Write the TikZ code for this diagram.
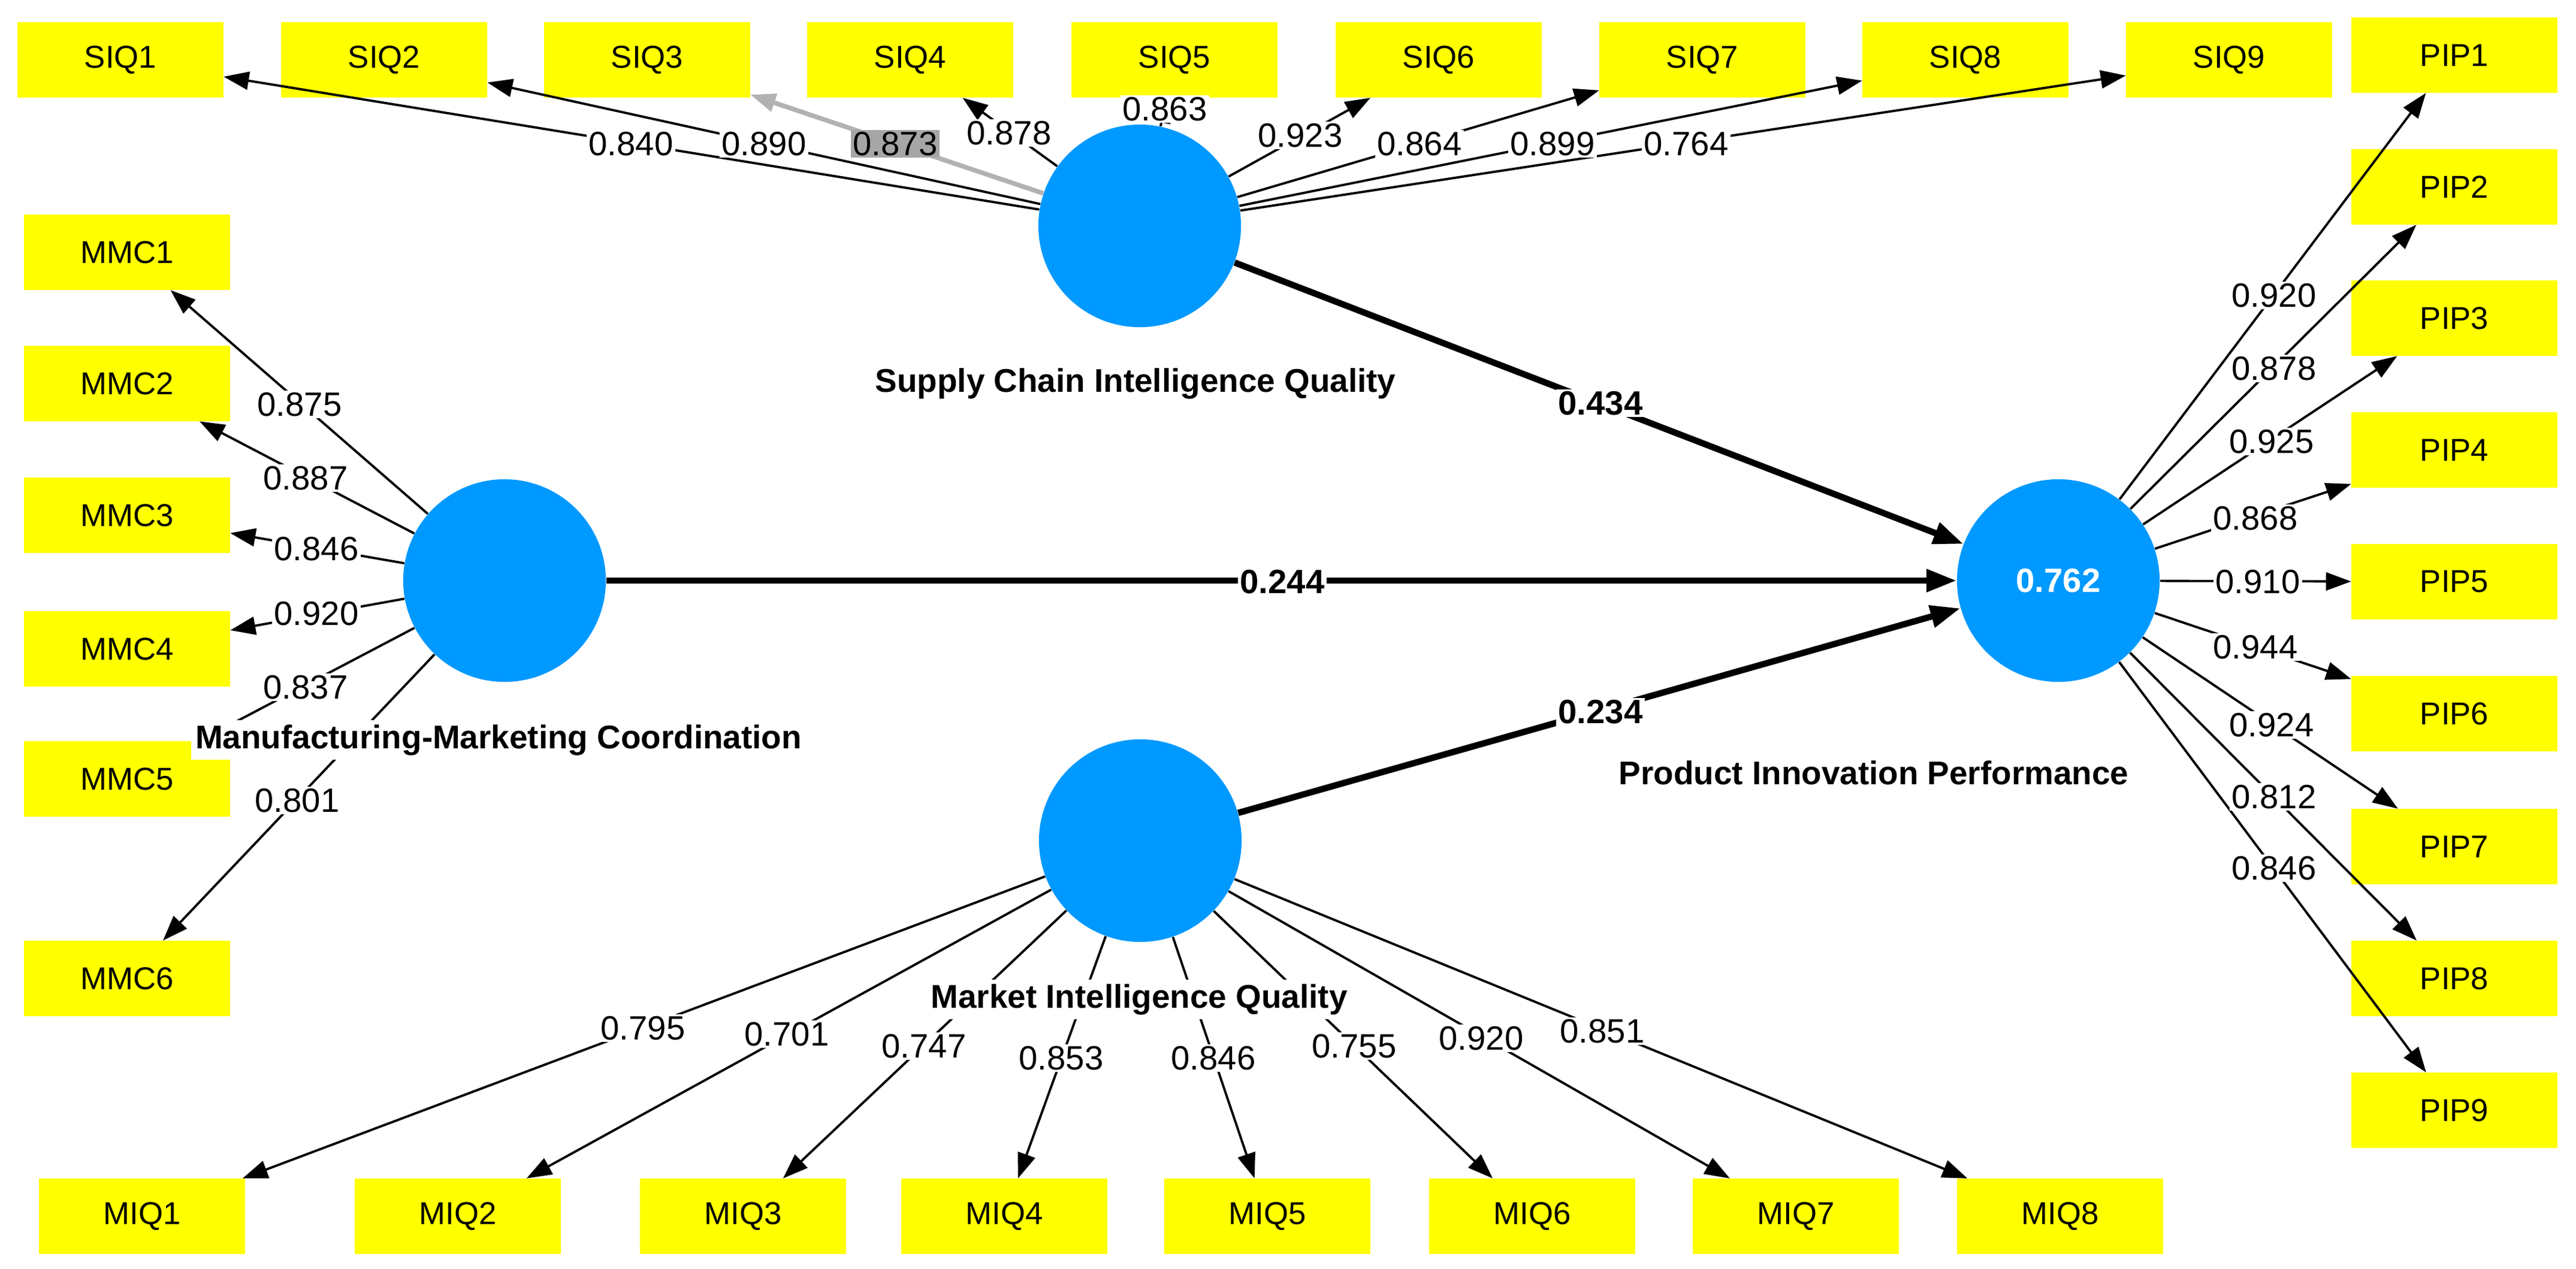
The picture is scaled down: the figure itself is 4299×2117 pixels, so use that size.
\documentclass[tikz,border=0pt]{standalone}
\usepackage{fontspec}
\setmainfont{Liberation Sans}
\usetikzlibrary{arrows.meta}
\definecolor{lv}{RGB}{0,153,255}
\definecolor{ybox}{RGB}{255,255,0}
\begin{document}
\begin{tikzpicture}[x=0.01cm,y=-0.01cm,
  box/.style={rectangle,fill=ybox,minimum width=3.43cm,minimum height=1.25cm,inner sep=0pt,font=\fontsize{15}{18}\selectfont},
  lat/.style={circle,fill=lv,minimum size=3.38cm,inner sep=0pt},
  ind/.style={line width=1.1pt,-{Triangle[length=0.42cm,width=0.3cm]}},
  str/.style={line width=3pt,-{Triangle[length=0.5cm,width=0.36cm]}},
  num/.style={fill=white,inner sep=1pt,font=\fontsize{16}{18}\selectfont},
  bnum/.style={fill=white,inner sep=1pt,font=\fontsize{16}{18}\selectfont\bfseries},
  tit/.style={fill=white,inner sep=2pt,font=\fontsize{15.6}{18}\selectfont\bfseries}]
\useasboundingbox (0,0) rectangle (4299,2117);
% latent variables
\node[lat] (siq) at (1902,377) {};
\node[lat] (mmc) at (842,969) {};
\node[lat] (miq) at (1903,1403) {};
\node[lat] (pip) at (3435,969) {\textcolor{white}{\fontsize{16}{18}\selectfont\bfseries 0.762}};
% indicators
\node[box] (s1) at (201,100) {SIQ1};
\node[box] (s2) at (641,100) {SIQ2};
\node[box] (s3) at (1080,100) {SIQ3};
\node[box] (s4) at (1519,100) {SIQ4};
\node[box] (s5) at (1960,100) {SIQ5};
\node[box] (s6) at (2401,100) {SIQ6};
\node[box] (s7) at (2841,100) {SIQ7};
\node[box] (s8) at (3280,100) {SIQ8};
\node[box] (s9) at (3720,100) {SIQ9};
\node[box] (p1) at (4096,92) {PIP1};
\node[box] (p2) at (4096,312) {PIP2};
\node[box] (p3) at (4096,531) {PIP3};
\node[box] (p4) at (4096,751) {PIP4};
\node[box] (p5) at (4096,971) {PIP5};
\node[box] (p6) at (4096,1191) {PIP6};
\node[box] (p7) at (4096,1413) {PIP7};
\node[box] (p8) at (4096,1633) {PIP8};
\node[box] (p9) at (4096,1853) {PIP9};
\node[box] (m1) at (212,421) {MMC1};
\node[box] (m2) at (212,640) {MMC2};
\node[box] (m3) at (212,860) {MMC3};
\node[box] (m4) at (212,1083) {MMC4};
\node[box] (m5) at (212,1300) {MMC5};
\node[box] (m6) at (212,1633) {MMC6};
\node[box] (q1) at (237,2030) {MIQ1};
\node[box] (q2) at (764,2030) {MIQ2};
\node[box] (q3) at (1240,2030) {MIQ3};
\node[box] (q4) at (1676,2030) {MIQ4};
\node[box] (q5) at (2115,2030) {MIQ5};
\node[box] (q6) at (2557,2030) {MIQ6};
\node[box] (q7) at (2997,2030) {MIQ7};
\node[box] (q8) at (3438,2030) {MIQ8};
% SIQ edges
\foreach \t in {s1,s2,s4,s5,s6,s7,s8,s9} \draw[ind] (siq) -- (\t);
\draw[ind,gray!60,line width=2.2pt] (siq) -- (s3);
% MMC edges
\foreach \t in {m1,m2,m3,m4,m5,m6} \draw[ind] (mmc) -- (\t);
% MIQ edges
\foreach \t in {q1,q2,q3,q4,q5,q6,q7,q8} \draw[ind] (miq) -- (\t);
% PIP edges
\foreach \t in {p1,p2,p3,p4,p5,p6,p7,p8,p9} \draw[ind] (pip) -- (\t);
% structural
\draw[str] (siq) -- (pip);
\draw[str] (mmc) -- (pip);
\draw[str] (miq) -- (pip);
% loadings
\node[num] (l1) at (1053,240) {0.840};
\node[num] (l2) at (1275,240) {0.890};
\node[num,fill=gray!70] (l3) at (1494,240) {0.873};
\node[num] (l4) at (1684,222) {0.878};
\node[num] (l5) at (1944,182) {0.863};
\node[num] (l6) at (2170,226) {0.923};
\node[num] (l7) at (2369,240) {0.864};
\node[num] (l8) at (2591,240) {0.899};
\node[num] (l9) at (2814,240) {0.764};
\node[num] (lm1) at (500,675) {0.875};
\node[num] (lm2) at (510,798) {0.887};
\node[num] (lm3) at (528,916) {0.846};
\node[num] (lm4) at (528,1024) {0.920};
\node[num] (lm5) at (510,1147) {0.837};
\node[num] (lm6) at (496,1336) {0.801};
\node[num] (lq1) at (1073,1716) {0.795};
\node[num] (lq2) at (1313,1726) {0.701};
\node[num] (lq3) at (1542,1746) {0.747};
\node[num] (lq4) at (1771,1766) {0.853};
\node[num] (lq5) at (2025,1766) {0.846};
\node[num] (lq6) at (2260,1746) {0.755};
\node[num] (lq7) at (2472,1733) {0.920};
\node[num] (lq8) at (2674,1721) {0.851};
\node[num] (lp1) at (3795,493) {0.920};
\node[num] (lp2) at (3795,615) {0.878};
\node[num] (lp3) at (3791,737) {0.925};
\node[num] (lp4) at (3764,865) {0.868};
\node[num] (lp5) at (3768,971) {0.910};
\node[num] (lp6) at (3764,1080) {0.944};
\node[num] (lp7) at (3791,1210) {0.924};
\node[num] (lp8) at (3795,1330) {0.812};
\node[num] (lp9) at (3795,1449) {0.846};
% path coefficients
\node[bnum] (c1) at (2671,673) {0.434};
\node[bnum] (c2) at (2140,971) {0.244};
\node[bnum] (c3) at (2671,1188) {0.234};
% titles
\node[tit] (t1) at (1895,640) {Supply Chain Intelligence Quality};
\node[tit] (t2) at (832,1235) {Manufacturing-Marketing Coordination};
\node[tit] (t3) at (1901,1668) {Market Intelligence Quality};
\node[tit] (t4) at (3127,1290) {Product Innovation Performance};
\end{tikzpicture}
\end{document}
